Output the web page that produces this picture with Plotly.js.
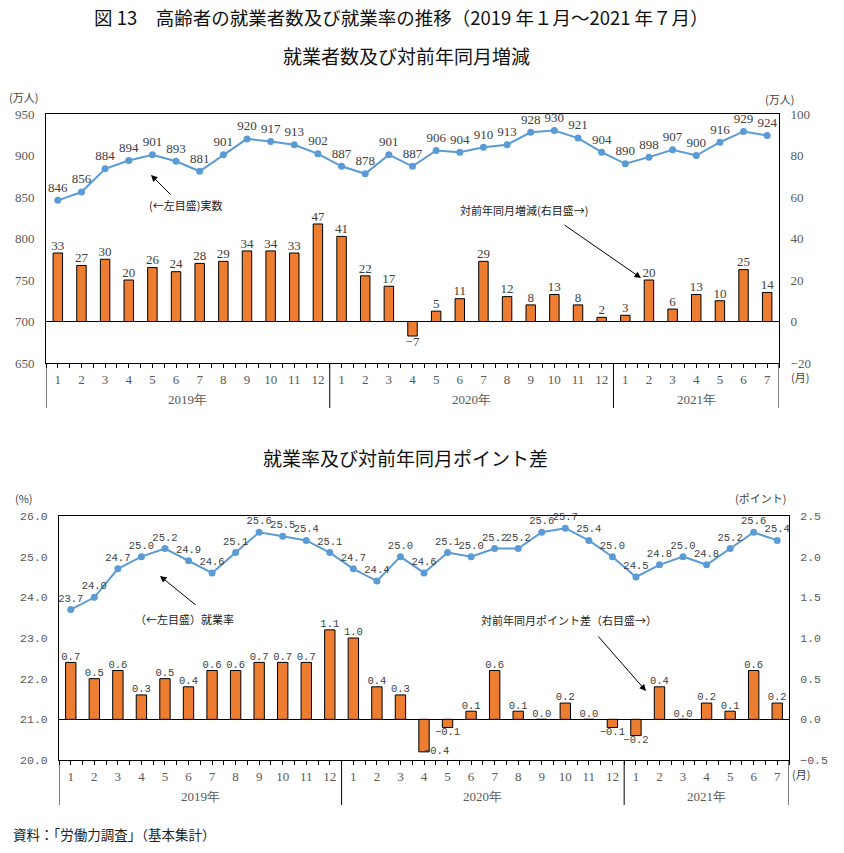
<!DOCTYPE html>
<html>
<head>
<meta charset="utf-8">
<script src="https://cdn.plot.ly/plotly-3.0.1.min.js"></script>
<style>html,body{margin:0;padding:0;background:#fff;}#chart{width:844px;height:853px;}</style>
</head>
<body>
<div id="chart"></div>
<script>
// ---- data ----
const months = [1,2,3,4,5,6,7,8,9,10,11,12, 1,2,3,4,5,6,7,8,9,10,11,12, 1,2,3,4,5,6,7];
const years = ['2019年','2020年','2021年'];
const employed = [846,856,884,894,901,893,881,901,920,917,913,902,
                  887,878,901,887,906,904,910,913,928,930,921,904,
                  890,898,907,900,916,929,924];
const employedChange = [33,27,30,20,26,24,28,29,34,34,33,47,
                        41,22,17,-7,5,11,29,12,8,13,8,2,
                        3,20,6,13,10,25,14];
const rate = [23.7,24.0,24.7,25.0,25.2,24.9,24.6,25.1,25.6,25.5,25.4,25.1,
              24.7,24.4,25.0,24.6,25.1,25.0,25.2,25.2,25.6,25.7,25.4,25.0,
              24.5,24.8,25.0,24.8,25.2,25.6,25.4];
const rateDiff = [0.7,0.5,0.6,0.3,0.5,0.4,0.6,0.6,0.7,0.7,0.7,1.1,
                  1.0,0.4,0.3,-0.4,-0.1,0.1,0.6,0.1,0.0,0.2,0.0,-0.1,
                  -0.2,0.4,0.0,0.2,0.1,0.6,0.2];

// ---- helpers ----
const W = 844, H = 853;
const px = x => x / W;
const py = y => 1 - y / H;
const idx = months.map((_, i) => i);
const minus = s => s.replace('-', '\u2212');
const fmtInt = v => minus(String(v));
const fmt1 = v => minus(v.toFixed(1));

// year group centers and boundaries
const starts = [];
months.forEach((m, i) => { if (m === 1) starts.push(i); });
const groups = starts.map((s, k) => {
  const e = (k + 1 < starts.length ? starts[k + 1] : months.length) - 1;
  return {start: s, end: e, center: (s + e) / 2};
});

const ORANGE = '#ED7D31';
const BLUE = '#5B9BD5';
const SERIF = '"Liberation Serif", "DejaVu Serif", serif';
const MONO = '"Liberation Mono", "DejaVu Sans Mono", monospace';
const JP = '"Noto Sans CJK JP", sans-serif';
const LBL = '#404040';
const TICK = '#595959';

const traces = [
  // top chart
  {type: 'bar', x: idx, y: employedChange, xaxis: 'x', yaxis: 'y2', width: 0.4,
   marker: {color: ORANGE, line: {color: '#000', width: 1}}, hoverinfo: 'skip'},
  {type: 'scatter', mode: 'text', x: idx, y: employedChange, xaxis: 'x', yaxis: 'y2',
   text: employedChange.map(fmtInt),
   textposition: employedChange.map(v => v < 0 ? 'bottom center' : 'top center'),
   textfont: {family: SERIF, size: 13, color: LBL}, hoverinfo: 'skip'},
  {type: 'scatter', mode: 'lines+markers+text', x: idx, y: employed, xaxis: 'x', yaxis: 'y',
   line: {color: BLUE, width: 2}, marker: {color: BLUE, size: 7},
   text: employed.map(fmtInt), textposition: 'top center',
   textfont: {family: SERIF, size: 13, color: LBL}, cliponaxis: false, hoverinfo: 'skip'},
  // bottom chart
  {type: 'bar', x: idx, y: rateDiff, xaxis: 'x2', yaxis: 'y4', width: 0.44,
   marker: {color: ORANGE, line: {color: '#000', width: 1}}, hoverinfo: 'skip'},
  {type: 'scatter', mode: 'text', x: idx, y: rateDiff, xaxis: 'x2', yaxis: 'y4',
   text: rateDiff.map(fmt1),
   textposition: rateDiff.map(v => v < -0.3 ? 'middle right' : (v < 0 ? 'bottom center' : 'top center')),
   textfont: {family: MONO, size: 10.5, color: LBL}, hoverinfo: 'skip'},
  {type: 'scatter', mode: 'lines+markers+text', x: idx, y: rate, xaxis: 'x2', yaxis: 'y3',
   line: {color: BLUE, width: 2}, marker: {color: BLUE, size: 7},
   text: rate.map(fmt1), textposition: 'top center',
   textfont: {family: MONO, size: 10.5, color: LBL}, cliponaxis: false, hoverinfo: 'skip'}
];

const xCommon = {
  range: [-0.5, months.length - 0.5],
  tickmode: 'array', tickvals: idx, ticktext: months.map(String),
  ticks: 'outside', ticklen: 4, tickcolor: '#000', tickwidth: 1,
  minor: {tickmode: 'linear', tick0: -0.5, dtick: 1, ticks: 'outside', ticklen: 4, tickcolor: '#000', tickwidth: 1},
  showline: true, linecolor: '#000', linewidth: 1, mirror: true,
  showgrid: false, zeroline: false, fixedrange: true
};
const yCommon = {
  showline: true, linecolor: '#000', linewidth: 1, showgrid: false, ticks: '',
  ticklabelstandoff: 8, fixedrange: true
};

const layout = {
  width: W, height: H,
  margin: {l: 0, r: 0, t: 0, b: 0},
  paper_bgcolor: '#fff', plot_bgcolor: '#fff',
  showlegend: false, bargap: 0,
  xaxis: Object.assign({}, xCommon, {domain: [px(46), px(779)], anchor: 'y',
    tickfont: {family: SERIF, size: 13, color: TICK}}),
  yaxis: Object.assign({}, yCommon, {domain: [py(363), py(114)], anchor: 'x',
    range: [650, 950], dtick: 50, tick0: 650, zeroline: false,
    tickfont: {family: SERIF, size: 13, color: TICK}}),
  yaxis2: Object.assign({}, yCommon, {overlaying: 'y', side: 'right', anchor: 'x',
    range: [-20, 100], dtick: 20, tick0: -20,
    zeroline: true, zerolinecolor: '#000', zerolinewidth: 1,
    tickfont: {family: SERIF, size: 13, color: TICK}}),
  xaxis2: Object.assign({}, xCommon, {domain: [px(59), px(789)], anchor: 'y3',
    tickfont: {family: SERIF, size: 13, color: TICK}}),
  yaxis3: Object.assign({}, yCommon, {domain: [py(760), py(516)], anchor: 'x2',
    range: [20, 26], dtick: 1, tick0: 20, tickformat: '.1f', zeroline: false,
    tickfont: {family: MONO, size: 11.5, color: TICK}}),
  yaxis4: Object.assign({}, yCommon, {overlaying: 'y3', side: 'right', anchor: 'x2',
    range: [-0.5, 2.5], dtick: 0.5, tick0: -0.5, tickformat: '.1f',
    zeroline: true, zerolinecolor: '#000', zerolinewidth: 1,
    tickfont: {family: MONO, size: 11.5, color: TICK}}),
  shapes: [],
  annotations: []
};

// year separators and axis extensions
function addSeparators(xref, yTop, yBot) {
  const xs = [-0.5, months.length - 0.5].concat(starts.slice(1).map(s => s - 0.5));
  xs.forEach(x => layout.shapes.push({type: 'line', xref: xref, yref: 'paper',
    x0: x, x1: x, y0: py(yTop), y1: py(yBot), line: {color: '#000', width: 1}}));
}
addSeparators('x', 363, 408);
addSeparators('x2', 760, 805);

function txt(text, x, y, size, opts) {
  layout.annotations.push(Object.assign({text: text, xref: 'paper', yref: 'paper',
    x: px(x), y: py(y), xanchor: 'center', yanchor: 'middle', showarrow: false,
    font: {family: JP, size: size, color: '#222'}}, opts || {}));
}

// year labels
groups.forEach((g, k) => {
  layout.annotations.push({text: years[k], xref: 'x', yref: 'paper', x: g.center, y: py(399),
    showarrow: false, xanchor: 'center', yanchor: 'middle',
    font: {family: SERIF, size: 13, color: TICK}});
  layout.annotations.push({text: years[k], xref: 'x2', yref: 'paper', x: g.center, y: py(796),
    showarrow: false, xanchor: 'center', yanchor: 'middle',
    font: {family: SERIF, size: 13, color: TICK}});
});

// titles
const TF = {family: JP, size: 19, color: '#111'};
txt('図 13　高齢者の就業者数及び就業率の推移（2019 年１月～2021 年７月）', 401, 17, 18.5, {font: {family: JP, size: 18.5, color: '#111'}});
txt('就業者数及び対前年同月増減', 406, 55, 19, {font: TF});
txt('就業率及び対前年同月ポイント差', 405, 457, 19, {font: TF});
txt('資料：「労働力調査」（基本集計）', 11, 834, 13.5, {xanchor: 'left', font: {family: JP, size: 13.5, color: '#222'}});

// unit labels
txt('(万人)', 7, 97, 11, {xanchor: 'left', font: {family: JP, size: 11, color: LBL}});
txt('(万人)', 763, 99, 11, {xanchor: 'left', font: {family: JP, size: 11, color: LBL}});
txt('(月)', 789, 377, 11, {xanchor: 'left', font: {family: JP, size: 11, color: LBL}});
txt('(%)', 13, 498, 11, {xanchor: 'left', font: {family: JP, size: 11, color: LBL}});
txt('(ポイント)', 733, 498, 11, {xanchor: 'left', font: {family: JP, size: 11, color: LBL}});
txt('(月)', 790, 774, 11, {xanchor: 'left', font: {family: JP, size: 11, color: LBL}});

// callouts
txt('(←左目盛)実数', 185, 205, 11, {font: {family: JP, size: 11, color: '#222'}});
txt('対前年同月増減(右目盛→)', 524, 210, 11, {font: {family: JP, size: 11, color: '#222'}});
txt('（←左目盛）就業率', 184, 619, 11, {font: {family: JP, size: 11, color: '#222'}});
txt('対前年同月ポイント差（右目盛→）', 569, 620, 11, {font: {family: JP, size: 11, color: '#222'}});

function arrow(hx, hy, tx, ty) {
  layout.annotations.push({text: '', xref: 'paper', yref: 'paper', x: px(hx), y: py(hy),
    ax: tx - hx, ay: ty - hy, axref: 'pixel', ayref: 'pixel', showarrow: true,
    arrowhead: 2, arrowsize: 1.3, arrowwidth: 1, arrowcolor: '#000'});
}
arrow(151, 175, 172, 196);
arrow(641, 278, 563, 224);
arrow(160, 576, 197, 606);
arrow(646, 691, 597, 635);

Plotly.newPlot('chart', traces, layout, {staticPlot: true, displayModeBar: false});
</script>
</body>
</html>
